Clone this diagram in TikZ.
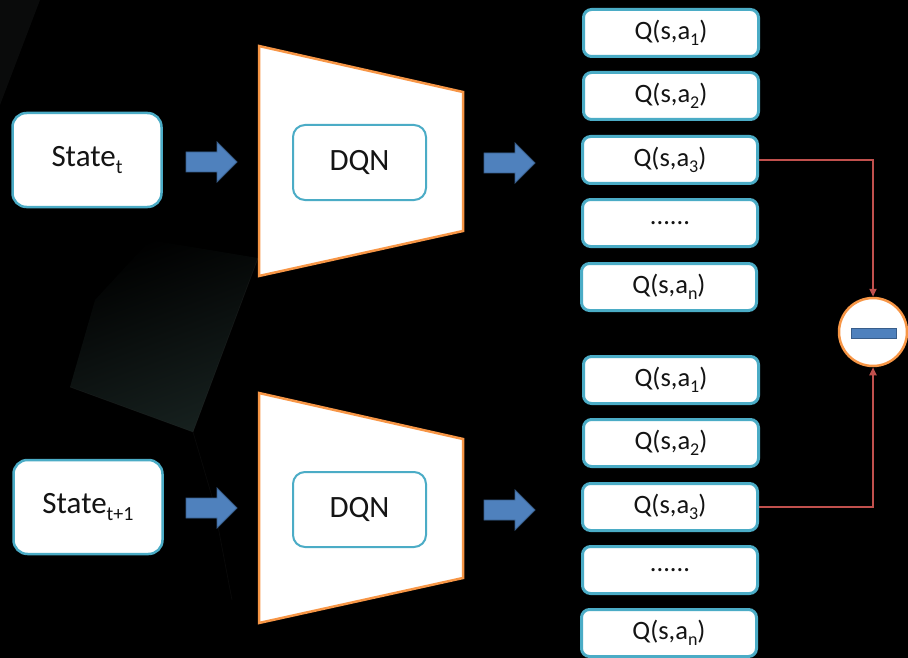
\documentclass[tikz,border=0pt]{standalone}
\usepackage{fontspec}
\setmainfont{Carlito}
\usetikzlibrary{arrows.meta}

\definecolor{boxblue}{HTML}{4BACC6}
\definecolor{netorange}{HTML}{F79646}
\definecolor{fatblue}{HTML}{4F81BD}
\definecolor{fatblueedge}{HTML}{385D8A}
\definecolor{linkred}{HTML}{C0504D}
\definecolor{inktext}{HTML}{141414}
\definecolor{shadowteal}{HTML}{16201E}
\definecolor{faintgrey}{HTML}{0A0B0B}

% subscripts in the two text sizes
\newcommand\bigsub[1]{\raisebox{-7pt}{\fontsize{20}{22}\selectfont #1}}
\newcommand\smallsub[1]{\raisebox{-5.5pt}{\fontsize{18}{20}\selectfont #1}}

\tikzset{
  statebox/.style={draw=boxblue, line width=2.5pt, fill=white, rounded corners=14pt,
    minimum width=149pt, minimum height=94pt, inner sep=0pt, text=inktext,
    font=\fontsize{31}{34}\selectfont},
  dqnbox/.style={draw=boxblue, line width=2pt, fill=white, rounded corners=12pt,
    minimum width=133pt, minimum height=75pt, inner sep=0pt, text=inktext,
    font=\fontsize{31}{34}\selectfont},
  qbox/.style={draw=boxblue, line width=3pt, fill=white, rounded corners=8pt,
    minimum width=175pt, minimum height=47pt, inner sep=0pt, text=inktext,
    font=\fontsize{26.5}{30}\selectfont},
  netshape/.style={draw=netorange, line width=2.5pt, fill=white, line join=miter},
  fatarrow/.style={fill=fatblue, draw=fatblueedge, line width=0.8pt},
  linkline/.style={draw=linkred, line width=2pt, -{Triangle[length=8pt,width=7pt]}},
  diffnode/.style={circle, draw=netorange, line width=2.5pt, fill=white,
    minimum size=68pt, inner sep=0pt},
  minusbar/.style={fill=fatblue, draw=fatblueedge, line width=0.8pt,
    minimum width=45pt, minimum height=10pt, inner sep=0pt}
}

\begin{document}
\begin{tikzpicture}[x=1pt, y=-1pt]
  % backdrop
  \fill[black] (0,0) rectangle (908,658);
  \useasboundingbox (0,0) rectangle (908,658);
  \fill[faintgrey] (0,0) -- (40,0) -- (0,105) -- cycle;
  \shade[top color=black, bottom color=shadowteal, shading angle=20]
    (70,387) -- (193,432) -- (258,258) -- (150,240) -- (95,300) -- cycle;
  \draw[black!75!white, opacity=0.22, line width=0.7pt] (193,432) -- (258,258);
  \draw[black!75!white, opacity=0.18, line width=0.7pt] (70,387) -- (193,432);
  \draw[black!80!white, opacity=0.18, line width=0.7pt] (193,432) -- (213,500) -- (232,600);

  % inputs
  \node[statebox] (s1) at (87,160) {State\bigsub{t}};
  \node[statebox] (s2) at (88,507) {State\bigsub{t+1}};

  % network trapezoids
  \draw[netshape] (259,46) coordinate (n1a) -- (463,92) -- (463,231) -- (259,276) -- cycle;
  \draw[netshape] (259,393) coordinate (n2a) -- (463,439) -- (463,578) -- (259,623) -- cycle;
  \node[dqnbox] (d1) at (359.5,162.5) {DQN};
  \node[dqnbox] (d2) at (359.5,509.5) {DQN};

  % block arrows
  \draw[fatarrow] (186,152) -- (217,152) -- (217,142) -- (237,162) -- (217,182) -- (217,172) -- (186,172) -- cycle;
  \draw[fatarrow] (186,498) -- (217,498) -- (217,488) -- (237,508) -- (217,528) -- (217,518) -- (186,518) -- cycle;
  \draw[fatarrow] (484,153) -- (515,153) -- (515,143) -- (535,163) -- (515,183) -- (515,173) -- (484,173) -- cycle;
  \draw[fatarrow] (484,500) -- (515,500) -- (515,490) -- (535,510) -- (515,530) -- (515,520) -- (484,520) -- cycle;

  % Q-values of the first pass
  \node[qbox] (qa1) at (671,33)  {Q(s,a\smallsub{1})};
  \node[qbox] (qa2) at (671,96)  {Q(s,a\smallsub{2})};
  \node[qbox] (qa3) at (670,160) {Q(s,a\smallsub{3})};
  \node[qbox] (qa4) at (670,223) {......};
  \node[qbox] (qa5) at (669,287) {Q(s,a\smallsub{n})};

  % Q-values of the second pass
  \node[qbox] (qb1) at (671,380) {Q(s,a\smallsub{1})};
  \node[qbox] (qb2) at (671,443) {Q(s,a\smallsub{2})};
  \node[qbox] (qb3) at (670,507) {Q(s,a\smallsub{3})};
  \node[qbox] (qb4) at (670,570) {......};
  \node[qbox] (qb5) at (669,633) {Q(s,a\smallsub{n})};

  % difference
  \node[diffnode] (diff) at (873,332) {};
  \node[minusbar] (bar) at (874,333) {};
  \draw[linkline] (qa3.east) -| (diff.north);
  \draw[linkline] (qb3.east) -| (diff.south);
\end{tikzpicture}
\end{document}
